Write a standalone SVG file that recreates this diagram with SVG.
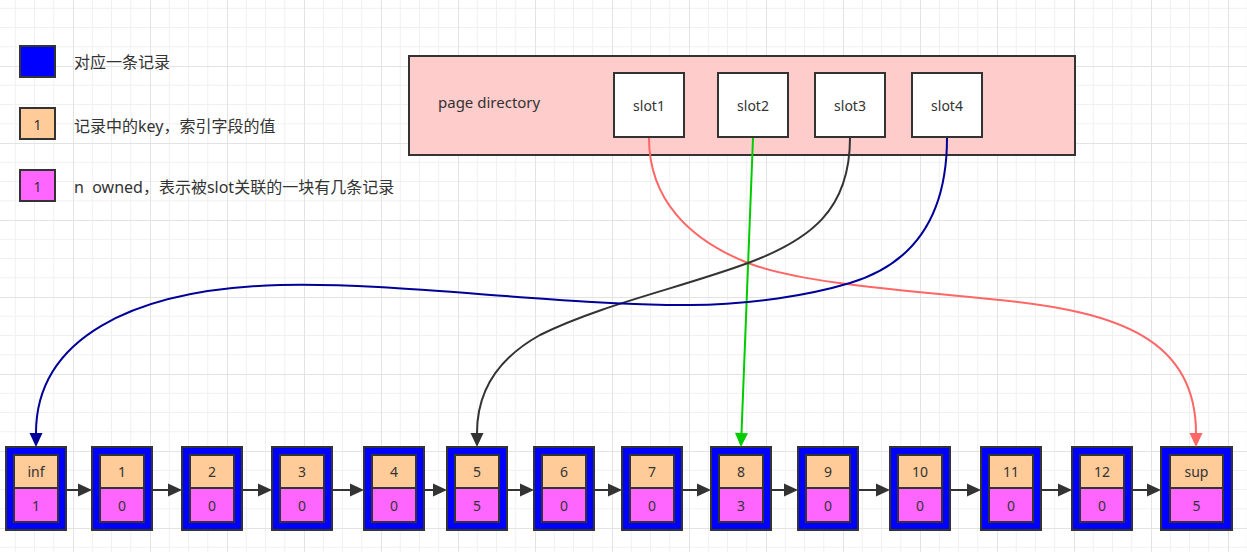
<svg xmlns="http://www.w3.org/2000/svg" width="1247" height="552" viewBox="0 0 1247 552">
<defs>
<pattern id="grid" patternUnits="userSpaceOnUse" x="-4" y="-11" width="77" height="77">
<path d="M19.25,0V77M38.5,0V77M57.75,0V77M0,19.25H77M0,38.5H77M0,57.75H77" stroke="#f0f0f0" stroke-width="1" fill="none"/>
<path d="M0.5,0V77M0,0.5H77" stroke="#e3e3e3" stroke-width="1" fill="none"/>
</pattern>
<marker id="aDark" markerUnits="userSpaceOnUse" markerWidth="14" markerHeight="13" refX="0" refY="6.5" orient="auto" overflow="visible"><path d="M0,0L14,6.5L0,13z" fill="#333333"/></marker>
<marker id="aRed" markerUnits="userSpaceOnUse" markerWidth="14" markerHeight="13" refX="0" refY="6.5" orient="auto" overflow="visible"><path d="M0,0L14,6.5L0,13z" fill="#FF6666"/></marker>
<marker id="aGreen" markerUnits="userSpaceOnUse" markerWidth="14" markerHeight="13" refX="0" refY="6.5" orient="auto" overflow="visible"><path d="M0,0L14,6.5L0,13z" fill="#00CC00"/></marker>
<marker id="aBlue" markerUnits="userSpaceOnUse" markerWidth="14" markerHeight="13" refX="0" refY="6.5" orient="auto" overflow="visible"><path d="M0,0L14,6.5L0,13z" fill="#000099"/></marker>
</defs>
<style>
.t{font-family:"Noto Sans","Noto Sans CJK SC",sans-serif;font-size:14px;fill:#333333;text-anchor:middle;dominant-baseline:central}
.lg{font-family:"Noto Sans","Noto Sans CJK SC",sans-serif;font-size:16px;fill:#333333;dominant-baseline:central}
.outer{fill:#0000FF;stroke:#333333;stroke-width:2}
.key{fill:#FFCC99;stroke:#333333;stroke-width:2}
.own{fill:#FF66FF;stroke:#333333;stroke-width:2}
.slot{fill:#FFFFFF;stroke:#333333;stroke-width:2}
.link{stroke:#333333;stroke-width:2;fill:none;marker-end:url(#aDark)}
.c{fill:none;stroke-width:2}
</style>
<rect width="1247" height="552" fill="#ffffff"/>
<rect width="1247" height="552" fill="url(#grid)"/>

<g id="legend">
<g id="legend-record"><rect x="20" y="46" width="35" height="31" class="outer"/><text x="74" y="62" class="lg">对应一条记录</text></g>
<g id="legend-key"><rect x="20" y="108" width="35" height="31" class="key"/><text x="37.5" y="124" class="t">1</text><text x="74" y="126" class="lg">记录中的key，索引字段的值</text></g>
<g id="legend-owned"><rect x="20" y="170" width="35" height="31" class="own"/><text x="37.5" y="186" class="t">1</text><text x="74" y="187" class="lg">n&#160; owned，表示被slot关联的一块有几条记录</text></g>
</g>

<g id="page-directory">
<rect x="409" y="56" width="666" height="99" fill="#FFCCCC" stroke="#333333" stroke-width="2"/>
<text x="438" y="102" class="t" style="text-anchor:start;font-size:15px">page directory</text>
</g>
<g id="slot1"><rect x="614" y="73" width="70" height="64" class="slot"/><text x="649" y="105" class="t">slot1</text></g>
<g id="slot2"><rect x="718" y="73" width="70" height="64" class="slot"/><text x="753" y="105" class="t">slot2</text></g>
<g id="slot3"><rect x="815" y="73" width="70" height="64" class="slot"/><text x="850" y="105" class="t">slot3</text></g>
<g id="slot4"><rect x="912" y="73" width="70" height="64" class="slot"/><text x="947" y="105" class="t">slot4</text></g>

<g id="rec-inf"><rect x="6" y="447" width="60" height="83" class="outer"/><rect x="14" y="455" width="44" height="33" class="key"/><rect x="14" y="488" width="44" height="34" class="own"/><text x="36" y="471.5" class="t">inf</text><text x="36" y="505" class="t">1</text></g>
<g id="rec-1"><rect x="92" y="447" width="60" height="83" class="outer"/><rect x="100" y="455" width="44" height="33" class="key"/><rect x="100" y="488" width="44" height="34" class="own"/><text x="122" y="471.5" class="t">1</text><text x="122" y="505" class="t">0</text></g>
<g id="rec-2"><rect x="182" y="447" width="60" height="83" class="outer"/><rect x="190" y="455" width="44" height="33" class="key"/><rect x="190" y="488" width="44" height="34" class="own"/><text x="212" y="471.5" class="t">2</text><text x="212" y="505" class="t">0</text></g>
<g id="rec-3"><rect x="272" y="447" width="60" height="83" class="outer"/><rect x="280" y="455" width="44" height="33" class="key"/><rect x="280" y="488" width="44" height="34" class="own"/><text x="302" y="471.5" class="t">3</text><text x="302" y="505" class="t">0</text></g>
<g id="rec-4"><rect x="364" y="447" width="60" height="83" class="outer"/><rect x="372" y="455" width="44" height="33" class="key"/><rect x="372" y="488" width="44" height="34" class="own"/><text x="394" y="471.5" class="t">4</text><text x="394" y="505" class="t">0</text></g>
<g id="rec-5"><rect x="447" y="447" width="60" height="83" class="outer"/><rect x="455" y="455" width="44" height="33" class="key"/><rect x="455" y="488" width="44" height="34" class="own"/><text x="477" y="471.5" class="t">5</text><text x="477" y="505" class="t">5</text></g>
<g id="rec-6"><rect x="534" y="447" width="60" height="83" class="outer"/><rect x="542" y="455" width="44" height="33" class="key"/><rect x="542" y="488" width="44" height="34" class="own"/><text x="564" y="471.5" class="t">6</text><text x="564" y="505" class="t">0</text></g>
<g id="rec-7"><rect x="622" y="447" width="60" height="83" class="outer"/><rect x="630" y="455" width="44" height="33" class="key"/><rect x="630" y="488" width="44" height="34" class="own"/><text x="652" y="471.5" class="t">7</text><text x="652" y="505" class="t">0</text></g>
<g id="rec-8"><rect x="711" y="447" width="60" height="83" class="outer"/><rect x="719" y="455" width="44" height="33" class="key"/><rect x="719" y="488" width="44" height="34" class="own"/><text x="741" y="471.5" class="t">8</text><text x="741" y="505" class="t">3</text></g>
<g id="rec-9"><rect x="798" y="447" width="60" height="83" class="outer"/><rect x="806" y="455" width="44" height="33" class="key"/><rect x="806" y="488" width="44" height="34" class="own"/><text x="828" y="471.5" class="t">9</text><text x="828" y="505" class="t">0</text></g>
<g id="rec-10"><rect x="890" y="447" width="60" height="83" class="outer"/><rect x="898" y="455" width="44" height="33" class="key"/><rect x="898" y="488" width="44" height="34" class="own"/><text x="920" y="471.5" class="t">10</text><text x="920" y="505" class="t">0</text></g>
<g id="rec-11"><rect x="981" y="447" width="60" height="83" class="outer"/><rect x="989" y="455" width="44" height="33" class="key"/><rect x="989" y="488" width="44" height="34" class="own"/><text x="1011" y="471.5" class="t">11</text><text x="1011" y="505" class="t">0</text></g>
<g id="rec-12"><rect x="1072" y="447" width="60" height="83" class="outer"/><rect x="1080" y="455" width="44" height="33" class="key"/><rect x="1080" y="488" width="44" height="34" class="own"/><text x="1102" y="471.5" class="t">12</text><text x="1102" y="505" class="t">0</text></g>
<g id="rec-sup"><rect x="1161" y="447" width="71" height="83" class="outer"/><rect x="1170" y="455" width="53" height="33" class="key"/><rect x="1170" y="488" width="53" height="34" class="own"/><text x="1196.5" y="471.5" class="t">sup</text><text x="1196.5" y="505" class="t">5</text></g>

<g id="connectors">
<line x1="66" y1="490" x2="78" y2="490" class="link"/>
<line x1="152" y1="490" x2="168" y2="490" class="link"/>
<line x1="242" y1="490" x2="258" y2="490" class="link"/>
<line x1="332" y1="490" x2="350" y2="490" class="link"/>
<line x1="424" y1="490" x2="433" y2="490" class="link"/>
<line x1="507" y1="490" x2="520" y2="490" class="link"/>
<line x1="594" y1="490" x2="608" y2="490" class="link"/>
<line x1="682" y1="490" x2="697" y2="490" class="link"/>
<line x1="771" y1="490" x2="784" y2="490" class="link"/>
<line x1="858" y1="490" x2="876" y2="490" class="link"/>
<line x1="950" y1="490" x2="967" y2="490" class="link"/>
<line x1="1041" y1="490" x2="1058" y2="490" class="link"/>
<line x1="1132" y1="490" x2="1147" y2="490" class="link"/>
<path id="slot1-sup" class="c" stroke="#FF6666" marker-end="url(#aRed)" d="M649,138 C649,200 690,240 748,263 C800,283 900,290 1000,300 C1120,312 1196,340 1196,433"/>
<path id="slot2-8" class="c" stroke="#00CC00" marker-end="url(#aGreen)" d="M753,138 L741.5,433"/>
<path id="slot3-5" class="c" stroke="#333333" marker-end="url(#aDark)" d="M850,138 C850,210 810,240 748,263 C680,288 600,305 540,335 C495,360 477,395 477,433"/>
<path id="slot4-inf" class="c" stroke="#000099" marker-end="url(#aBlue)" d="M947,138 C947,220 910,265 850,283 C810,295 750,305 690,305 C550,305 400,282 280,285 C130,289 36,340 36,433"/>
</g>
</svg>
